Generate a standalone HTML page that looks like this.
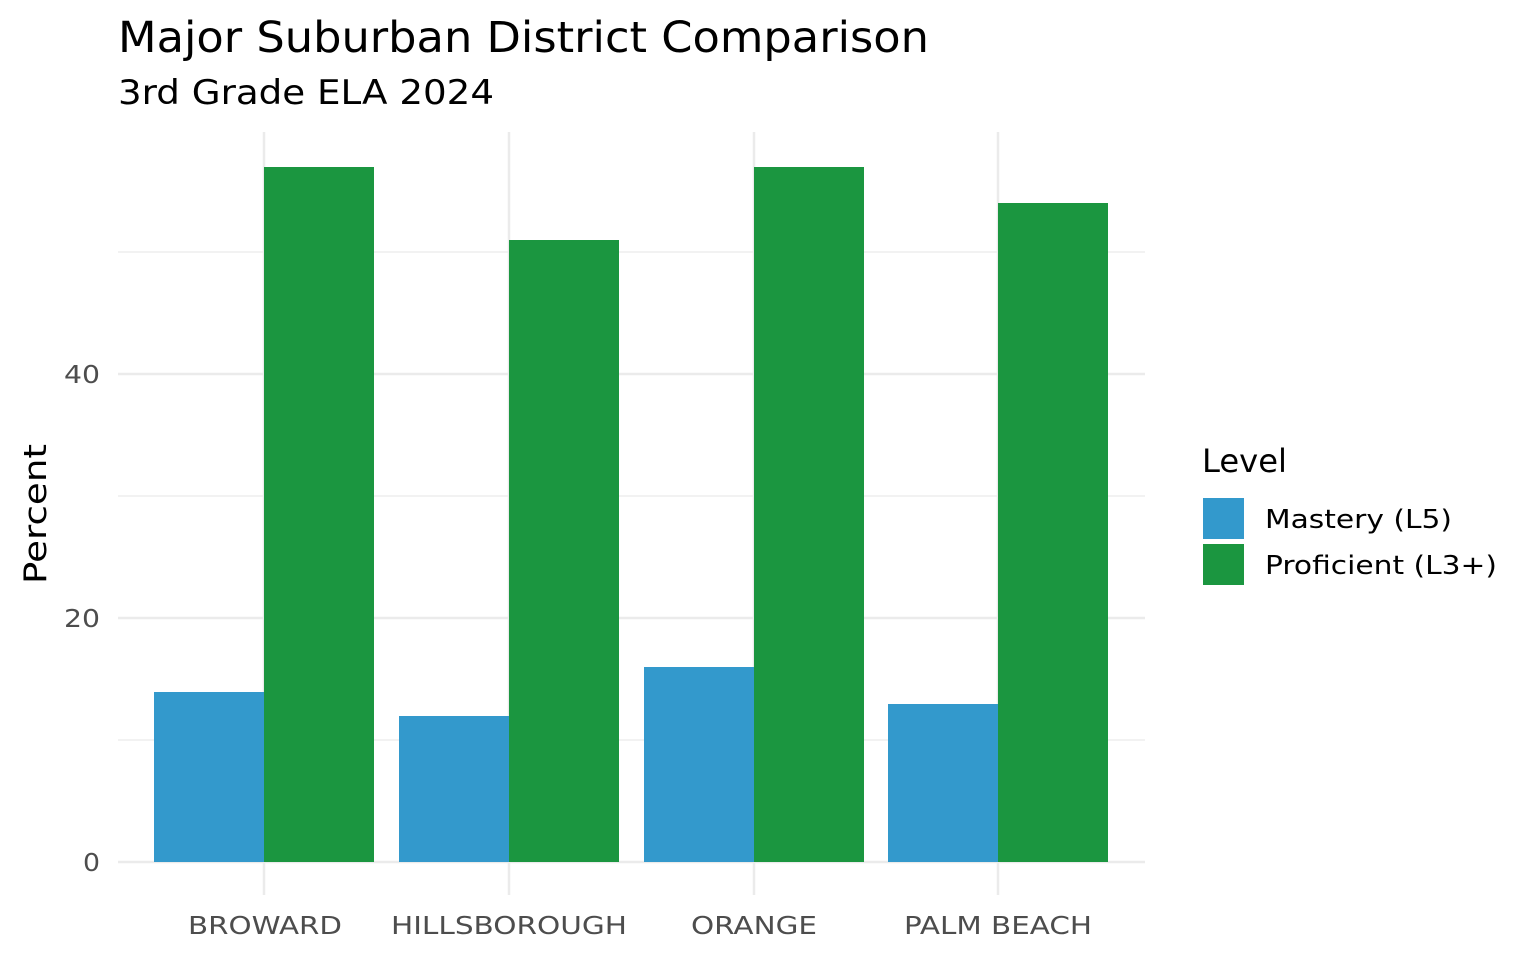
<!DOCTYPE html>
<html><head><meta charset="utf-8"><style>
html,body{margin:0;padding:0;background:#fff;}
svg{display:block;font-family:"DejaVu Sans","Liberation Sans",sans-serif;}
</style></head><body>
<svg width="1536" height="960" viewBox="0 0 1536 960" xmlns="http://www.w3.org/2000/svg">
<rect width="1536" height="960" fill="#fff"/>
<g stroke="#ebebeb" stroke-width="1.2">
<line x1="118" x2="1145" y1="740" y2="740"/>
<line x1="118" x2="1145" y1="496" y2="496"/>
<line x1="118" x2="1145" y1="252" y2="252"/>
</g>
<g stroke="#ebebeb" stroke-width="2.5">
<line x1="118" x2="1145" y1="862" y2="862"/>
<line x1="118" x2="1145" y1="618" y2="618"/>
<line x1="118" x2="1145" y1="374" y2="374"/>
<line x1="264" x2="264" y1="132" y2="895"/>
<line x1="509" x2="509" y1="132" y2="895"/>
<line x1="754" x2="754" y1="132" y2="895"/>
<line x1="998" x2="998" y1="132" y2="895"/>
</g>
<g fill="#3399cc">
<rect x="154" y="692" width="110" height="170"/>
<rect x="399" y="716" width="110" height="146"/>
<rect x="644" y="667" width="110" height="195"/>
<rect x="888" y="704" width="110" height="158"/>
</g>
<g fill="#1b9640">
<rect x="264" y="167" width="110" height="695"/>
<rect x="509" y="240" width="110" height="622"/>
<rect x="754" y="167" width="110" height="695"/>
<rect x="998" y="203" width="110" height="659"/>
</g>
<g fill="#4d4d4d" font-size="25">
<text x="83" y="871" textLength="17" lengthAdjust="spacingAndGlyphs">0</text>
<text x="64" y="627" textLength="36" lengthAdjust="spacingAndGlyphs">20</text>
<text x="64" y="383" textLength="36" lengthAdjust="spacingAndGlyphs">40</text>
</g>
<g fill="#4d4d4d" font-size="25">
<text x="188" y="934" textLength="154" lengthAdjust="spacingAndGlyphs">BROWARD</text>
<text x="391" y="934" textLength="236" lengthAdjust="spacingAndGlyphs">HILLSBOROUGH</text>
<text x="691" y="934" textLength="126" lengthAdjust="spacingAndGlyphs">ORANGE</text>
<text x="904" y="934" textLength="188" lengthAdjust="spacingAndGlyphs">PALM BEACH</text>
</g>
<text transform="translate(46,584) rotate(-90)" font-size="31" fill="#000" textLength="140" lengthAdjust="spacingAndGlyphs">Percent</text>
<text x="118" y="52" font-size="43" fill="#000" textLength="811" lengthAdjust="spacingAndGlyphs">Major Suburban District Comparison</text>
<text x="118" y="104" font-size="34" fill="#000" textLength="376" lengthAdjust="spacingAndGlyphs">3rd Grade ELA 2024</text>
<text x="1202" y="472" font-size="32" fill="#000" textLength="85" lengthAdjust="spacingAndGlyphs">Level</text>
<rect x="1203" y="498" width="41" height="41" fill="#3399cc"/>
<rect x="1203" y="544" width="41" height="41" fill="#1b9640"/>
<text x="1265" y="528" font-size="26" fill="#000" textLength="187" lengthAdjust="spacingAndGlyphs">Mastery (L5)</text>
<text x="1265" y="574" font-size="26" fill="#000" textLength="232" lengthAdjust="spacingAndGlyphs">Proficient (L3+)</text>
</svg>
</body></html>
